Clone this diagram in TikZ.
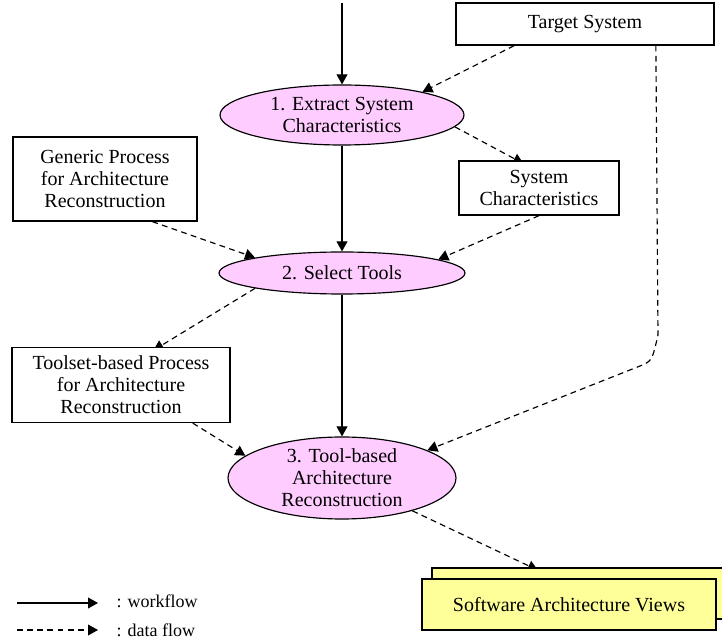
\documentclass[tikz,border=0pt]{standalone}
\usepackage{fontspec}
\setmainfont{Liberation Serif}
\usetikzlibrary{shapes.geometric,arrows.meta,backgrounds}

\definecolor{procpink}{HTML}{FFCCFF}
\definecolor{viewyellow}{HTML}{FFFF99}

\tikzset{
  process/.style={draw,ellipse,fill=procpink,line width=0.7pt,inner xsep=0pt,inner ysep=-6pt,align=center,font=\fontsize{12}{13.2}\selectfont},
  artefact/.style={draw,rectangle,fill=white,line width=0.8pt,inner sep=2pt,align=center,font=\fontsize{12}{13.2}\selectfont},
  legendtext/.style={inner sep=2pt,font=\fontsize{10.8}{13}\selectfont},
  workflow/.style={-{Triangle[length=6pt,width=6.5pt]},line width=0.7pt},
  dataflow/.style={-{Triangle[length=6pt,width=6.5pt]},line width=0.7pt,dash pattern=on 3.5pt off 2.6pt},
}

\begin{document}
\begin{tikzpicture}[x=0.6pt,y=-0.6pt]
\clip (0,0) rectangle (722,643);
% the three steps
\node[process,minimum width=146.4pt,minimum height=36pt] (e1) at (342,115) {1. Extract System\\Characteristics};
\node[process,minimum width=147.6pt,minimum height=25.2pt] (e2) at (342,273) {2. Select Tools};
\node[process,minimum width=136.8pt,minimum height=49.2pt] (e3) at (342,478) {3. Tool-based\\Architecture\\Reconstruction};
% inputs and results
\node[artefact,minimum width=154.8pt,minimum height=25.2pt] (ts) at (585,24) {Target System};
\node[artefact,minimum width=110.4pt,minimum height=50.4pt] (gp) at (105,179) {Generic Process\\for Architecture\\Reconstruction};
\node[artefact,minimum width=96pt,minimum height=32.4pt] (sc) at (539,188) {System\\Characteristics};
\node[artefact,minimum width=130.8pt,minimum height=45pt] (tp) at (121,385) {Toolset-based Process\\for Architecture\\Reconstruction};
\node[artefact,fill=viewyellow,minimum width=176.4pt,minimum height=30.6pt] (savback) at (579,593.5) {};
\node[artefact,fill=viewyellow,minimum width=176.4pt,minimum height=30.6pt] (sav) at (569,604.5) {Software Architecture Views};

% workflow
\coordinate (entry) at (342,3);
\draw[workflow] (entry) -- (e1.north);
\draw[workflow] (e1.south) -- (e2.north);
\draw[workflow] (e2.south) -- (e3.north);

% data flow
\coordinate (bendtop) at (658,335);
\coordinate (bendend) at (640,366);
\draw[dataflow] (ts.197) -- (e1.16);
\draw[dataflow] (gp.-42) -- (e2.170);
\draw[dataflow] (sc.south) -- (e2.8);
\draw[dataflow] (tp.-28) -- (e3.167);
\draw[dataflow] (ts.-17) -- (bendtop) .. controls (652,361) .. (bendend) -- (e3.18);
\begin{pgfonlayer}{background}
\draw[dataflow,shorten >=-4pt] (e1.-6) -- (sc.128);
\draw[dataflow,shorten >=-4pt] (e2.190) -- (tp.45);
\draw[dataflow,shorten >=-4pt] (e3.-25) -- (savback.151);
\end{pgfonlayer}

% legend
\coordinate (wfa) at (17,603);
\coordinate (wfb) at (98,603);
\coordinate (dfa) at (17,630);
\coordinate (dfb) at (98,630);
\draw[workflow] (wfa) -- (wfb);
\draw[dataflow] (dfa) -- (dfb);
\node[legendtext,anchor=west] (wflabel) at (113,601) {: workflow};
\node[legendtext,anchor=west] (dflabel) at (113,630) {: data flow};
\end{tikzpicture}
\end{document}
